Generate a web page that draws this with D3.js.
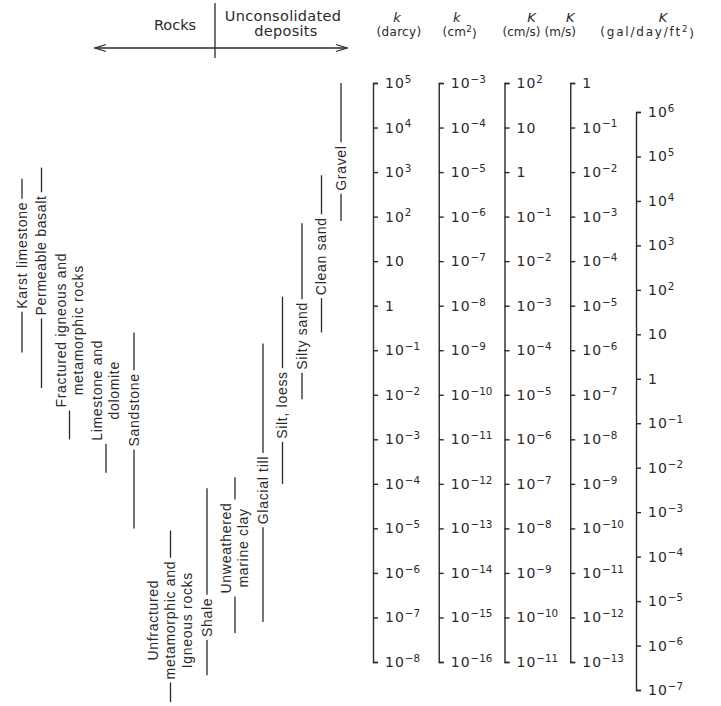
<!DOCTYPE html>
<html>
<head>
<meta charset="utf-8">
<script src="https://cdn.jsdelivr.net/npm/d3@7"></script>
<style>
  body { margin: 0; background: #fff; }
  svg text { fill: #2a2a2a; }
</style>
</head>
<body>
<svg id="chart" width="721" height="706"></svg>
<script>
// Range of intrinsic permeability k and hydraulic conductivity K
// for common rocks and unconsolidated deposits, on five parallel scales.

// ---- scale definitions (tick exponents, top to bottom) ----
const unitSymbols = ["k", "k", "K", "K", "K"];
const unitNames = ["darcy", "cm2", "cm/s", "m/s", "gal/day/ft2"];
const darcyExponents = [5, 4, 3, 2, 1, 0, -1, -2, -3, -4, -5, -6, -7, -8];
const cm2Exponents = [-3, -4, -5, -6, -7, -8, -9, -10, -11, -12, -13, -14, -15, -16];
const cmsExponents = [2, 1, 0, -1, -2, -3, -4, -5, -6, -7, -8, -9, -10, -11];
const msExponents = [0, -1, -2, -3, -4, -5, -6, -7, -8, -9, -10, -11, -12, -13];
const galExponents = [6, 5, 4, 3, 2, 1, 0, -1, -2, -3, -4, -5, -6, -7];

// ---- materials: range in log10(darcy) ----
const materialNames = [
  ["Karst limestone"],
  ["Permeable basalt"],
  ["Fractured igneous and", "metamorphic rocks"],
  ["Limestone and", "dolomite"],
  ["Sandstone"],
  ["Unfractured", "metamorphic and", "Igneous rocks"],
  ["Shale"],
  ["Unweathered", "marine clay"],
  ["Glacial till"],
  ["Silt, loess"],
  ["Silty sand"],
  ["Clean sand"],
  ["Gravel"]
];
const logDarcyHigh = [2.85, 3.1, 1.2, -0.7, -0.6, -5.05, -4.1, -3.85, -0.85, 0.2, 1.85, 2.93, 5.0];
const logDarcyLow = [-1.05, -1.85, -3.0, -3.75, -5.0, -8.9, -8.3, -7.35, -7.1, -4.0, -2.1, -0.6, 1.9];
const logDarcyLabel = [1.13, 1.13, -0.55, -1.9, -2.34, -7.06, -7.0, -5.44, -4.14, -2.23, -0.68, 1.11, 3.09];

// ---- drawing ----
const svg = d3.select("#chart");
const ink = "#2a2a2a";
const labelFont = "'Liberation Sans', Arial, sans-serif";
const scaleFont = "'DejaVu Sans', 'Noto Sans', sans-serif";

const scaleTop = 83, scaleBottom = 662;   // vertical extent of the darcy scale
const galTop = 112, galBottom = 690;      // gal/day/ft2 scale is drawn offset

const pow = e => Math.pow(10, e);
const axisX = d3.scalePoint().domain(unitNames).range([373, 636]);

const scaleSpecs = [
  { unit: "darcy", exps: darcyExponents, range: [scaleBottom, scaleTop] },
  { unit: "cm2", exps: cm2Exponents, range: [scaleBottom, scaleTop] },
  { unit: "cm/s", exps: cmsExponents, range: [scaleBottom, scaleTop] },
  { unit: "m/s", exps: msExponents, range: [scaleBottom, scaleTop] },
  { unit: "gal/day/ft2", exps: galExponents, range: [galBottom, galTop] }
];

scaleSpecs.forEach(spec => {
  const lo = d3.min(spec.exps), hi = d3.max(spec.exps);
  const s = d3.scaleLog().domain([pow(lo), pow(hi)]).range(spec.range);
  const axis = d3.axisRight(s)
    .tickValues(spec.exps.map(pow))
    .tickSizeInner(5).tickSizeOuter(5).tickPadding(7)
    .tickFormat("");
  const g = svg.append("g")
    .attr("transform", `translate(${axisX(spec.unit)},0)`)
    .call(axis);
  g.select(".domain").attr("stroke", ink).attr("stroke-width", 1.4);
  g.selectAll(".tick line").attr("stroke", ink).attr("stroke-width", 1.4);
  g.selectAll(".tick text")
    .attr("font-family", scaleFont)
    .attr("font-size", 14)
    .attr("letter-spacing", 1)
    .attr("fill", ink)
    .each(function (d) {
      const e = Math.round(Math.log10(d));
      const t = d3.select(this).text(null);
      if (e === 0) { t.append("tspan").text("1"); return; }
      t.append("tspan").text("10");
      if (e !== 1) {
        t.append("tspan").attr("dy", "-0.5em").attr("font-size", "0.74em")
          .attr("letter-spacing", 0)
          .text(e < 0 ? "\u2212" + (-e) : String(e));
      }
    });
});

// column headings
const symbolDx = [24, 18, 27, 0, 27];
const headerDx = [26, 21, 17, -10, 12];
const headerSpacing = [0.3, 0.3, 0, 0, 1.8];
const headerParts = [
  [["(darcy)", false]],
  [["(cm", false], ["2", true], [")", false]],
  [["(cm/s)", false]],
  [["(m/s)", false]],
  [["(gal/day/ft", false], ["2", true], [")", false]]
];
unitNames.forEach((u, i) => {
  svg.append("text")
    .attr("x", axisX(u) + symbolDx[i]).attr("y", 22)
    .attr("text-anchor", "middle")
    .attr("font-family", scaleFont).attr("font-style", "italic")
    .attr("font-size", 13)
    .text(unitSymbols[i]);
  const h = svg.append("text")
    .attr("x", axisX(u) + headerDx[i]).attr("y", 36)
    .attr("text-anchor", "middle")
    .attr("font-family", scaleFont).attr("font-size", 12)
    .attr("letter-spacing", headerSpacing[i]);
  headerParts[i].forEach(([txt, sup]) => {
    const ts = h.append("tspan").text(txt);
    if (sup) ts.attr("dy", "-0.45em").attr("font-size", "0.72em");
    else if (txt === ")") ts.attr("dy", "0.45em");
  });
});

// material ranges, drawn on the darcy scale
const y = d3.scaleLog().domain([pow(-8), pow(5)]).range([scaleBottom, scaleTop]);
const firstX = 22, colGap = 19.5, lineStep = 17, textGap = 3;
let cursor = firstX;
const xs = materialNames.map((lines, i) => {
  if (i > 0) {
    const prev = materialNames[i - 1].length;
    cursor += colGap + (prev - 1) * lineStep / 2 + (lines.length - 1) * lineStep / 2;
  }
  return cursor;
});

materialNames.forEach((lines, i) => {
  const x = xs[i];
  const yl = y(pow(logDarcyLabel[i]));
  const g = svg.append("g");
  const txt = g.append("g").attr("transform", `translate(${x},${yl}) rotate(-90)`);
  let maxLen = 0;
  lines.forEach((line, j) => {
    const t = txt.append("text")
      .attr("x", 0)
      .attr("y", (j - (lines.length - 1) / 2) * lineStep)
      .attr("dy", "0.35em")
      .attr("text-anchor", "middle")
      .attr("font-family", labelFont)
      .attr("font-size", 14)
      .attr("letter-spacing", 0.7)
      .text(line);
    maxLen = Math.max(maxLen, t.node().getComputedTextLength());
  });
  const yHigh = y(pow(logDarcyHigh[i]));
  const yLow = y(pow(logDarcyLow[i]));
  const segs = [[yHigh, yl - maxLen / 2 - textGap], [yl + maxLen / 2 + textGap, yLow]];
  segs.forEach(([a, b]) => {
    if (b - a > 1) {
      g.append("line").attr("x1", x).attr("x2", x).attr("y1", a).attr("y2", b)
        .attr("stroke", ink).attr("stroke-width", 1.3);
    }
  });
});

// heading over the material columns
const dividerX = 215, arrowY = 48;
svg.append("line").attr("x1", dividerX).attr("x2", dividerX).attr("y1", 3).attr("y2", 58)
  .attr("stroke", ink).attr("stroke-width", 1.3);
svg.append("line").attr("x1", 95).attr("x2", 347).attr("y1", arrowY).attr("y2", arrowY)
  .attr("stroke", ink).attr("stroke-width", 1.3);
svg.append("path")
  .attr("d", `M106,${arrowY - 3.5}L95,${arrowY}L106,${arrowY + 3.5}M336,${arrowY - 3.5}L347,${arrowY}L336,${arrowY + 3.5}`)
  .attr("fill", "none").attr("stroke", ink).attr("stroke-width", 1.3);
svg.append("text").attr("x", 175).attr("y", 30).attr("text-anchor", "middle")
  .attr("font-family", scaleFont).attr("font-size", 14.5).text("Rocks");
svg.append("text").attr("x", 283).attr("y", 21).attr("text-anchor", "middle")
  .attr("font-family", scaleFont).attr("font-size", 14.5).attr("letter-spacing", 0.3).text("Unconsolidated");
svg.append("text").attr("x", 286).attr("y", 36).attr("text-anchor", "middle")
  .attr("font-family", scaleFont).attr("font-size", 14.5).attr("letter-spacing", 0.3).text("deposits");
</script>
</body>
</html>
